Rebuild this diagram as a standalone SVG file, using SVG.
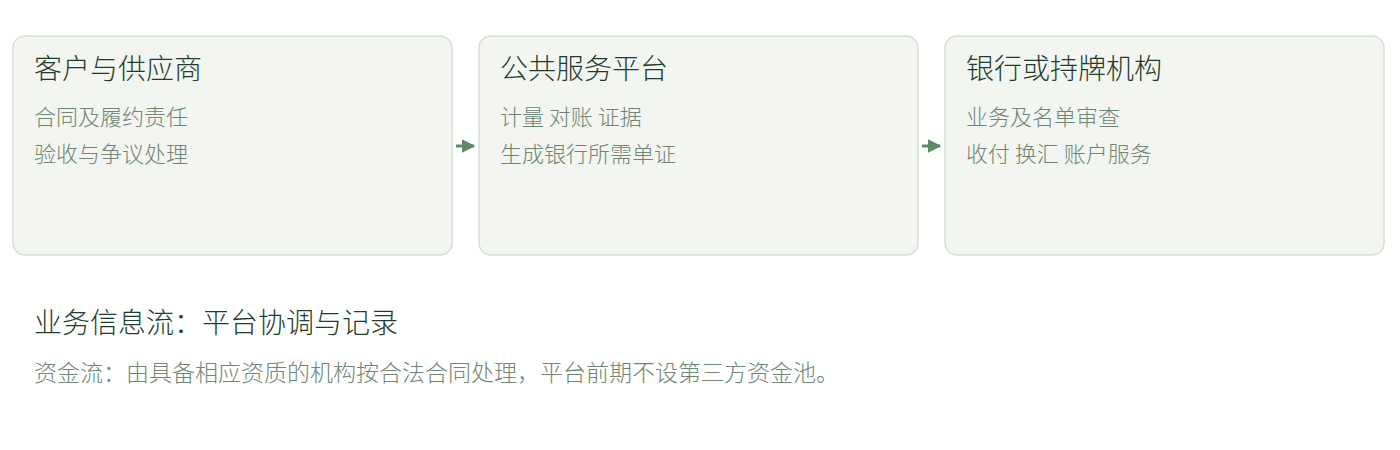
<svg xmlns="http://www.w3.org/2000/svg" width="1400" height="450" viewBox="0 0 1400 450">
<style>
.box{fill:#f3f6f0;stroke:#d5dfd3;stroke-width:1.5}
.t{font-family:"Noto Sans CJK SC","Noto Sans",sans-serif;font-size:28px;font-weight:300;fill:#1f3d2e}
.s{font-family:"Noto Sans CJK SC","Noto Sans",sans-serif;font-size:22px;font-weight:300;fill:#6f8575}
.n{font-size:23px}
.c{stroke:#5f8a66;stroke-width:3;fill:none}
</style>
<defs>
<marker id="ah" viewBox="0 0 10 10" refX="9" refY="5" markerWidth="4.5" markerHeight="4.5" orient="auto" markerUnits="strokeWidth">
<path d="M0,0 L10,5 L0,10 Z" fill="#5f8a66"/>
</marker>
</defs>
<rect width="1400" height="450" fill="#ffffff"/>
<g id="connectors">
<line class="c" x1="456" y1="146" x2="474" y2="146" marker-end="url(#ah)"/>
<line class="c" x1="922" y1="146" x2="940" y2="146" marker-end="url(#ah)"/>
</g>
<g id="node1">
<rect class="box" x="13" y="36" width="439" height="219" rx="12"/>
<text class="t" x="34" y="79">客户与供应商</text>
<text class="s" x="34" y="125">合同及履约责任</text>
<text class="s" x="34" y="162">验收与争议处理</text>
</g>
<g id="node2">
<rect class="box" x="479" y="36" width="439" height="219" rx="12"/>
<text class="t" x="500" y="79">公共服务平台</text>
<text class="s" x="500" y="125">计量 对账 证据</text>
<text class="s" x="500" y="162">生成银行所需单证</text>
</g>
<g id="node3">
<rect class="box" x="945" y="36" width="439" height="219" rx="12"/>
<text class="t" x="966" y="79">银行或持牌机构</text>
<text class="s" x="966" y="125">业务及名单审查</text>
<text class="s" x="966" y="162">收付 换汇 账户服务</text>
</g>
<g id="notes">
<text class="t" x="34" y="333">业务信息流：平台协调与记录</text>
<text class="s n" x="34" y="381">资金流：由具备相应资质的机构按合法合同处理，平台前期不设第三方资金池。</text>
</g>
</svg>
